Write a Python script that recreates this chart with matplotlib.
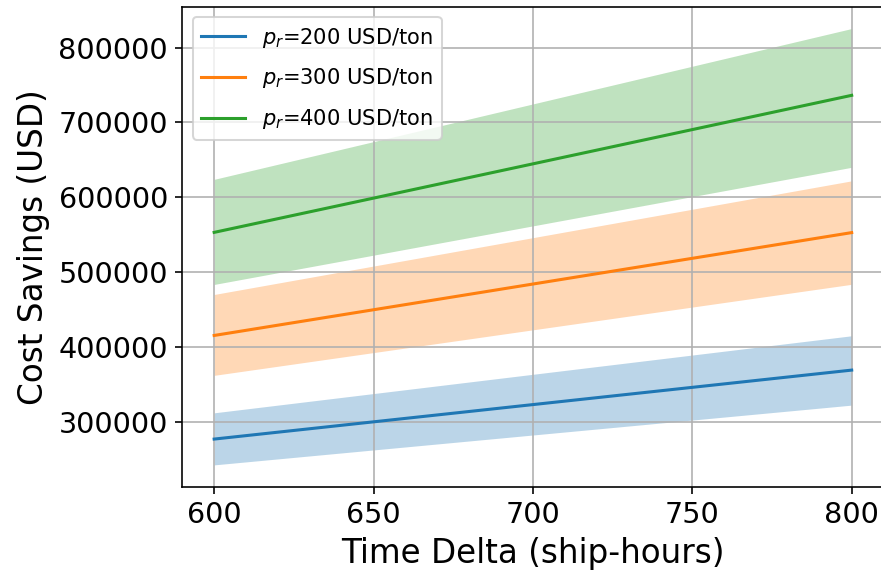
import numpy as np
import matplotlib
matplotlib.use("Agg")
import matplotlib.pyplot as plt

# time delta (ship-hours), end points of each curve
time_delta = [600, 800]

fuel_prices = [200, 300, 400]

# mean cost savings (USD)
savings = {
    200: [276600, 368800],
    300: [415100, 552600],
    400: [552900, 736100],
}
# lower / upper edge of the shaded band
lower = {
    200: [242100, 322000],
    300: [361800, 483500],
    400: [483300, 639900],
}
upper = {
    200: [311700, 414700],
    300: [469900, 621800],
    400: [623800, 825400],
}

colors = ["tab:blue", "tab:orange", "tab:green"]

fig = plt.figure(figsize=(881 / 147, 573 / 147), dpi=147)
# right spine falls just outside the picture, as in the original crop
ax = fig.add_axes([0.2069, 0.1506, 0.796, 0.8377])

for p, c in zip(fuel_prices, colors):
    ax.plot(time_delta, savings[p], color=c, label=r"$p_r$=" + f"{p} USD/ton")
    ax.fill_between(time_delta, lower[p], upper[p], color=c, alpha=0.3, linewidth=0)

ax.set_xlabel("Time Delta (ship-hours)", fontsize=16)
ax.set_ylabel("Cost Savings (USD)", fontsize=16)
ax.tick_params(labelsize=14)
ax.set_xticks([600, 650, 700, 750, 800])
ax.grid(True)
ax.legend(loc="upper left", fontsize=10.3, labelspacing=0.8, handlelength=2.1)

fig.savefig("out.png", dpi=147)
